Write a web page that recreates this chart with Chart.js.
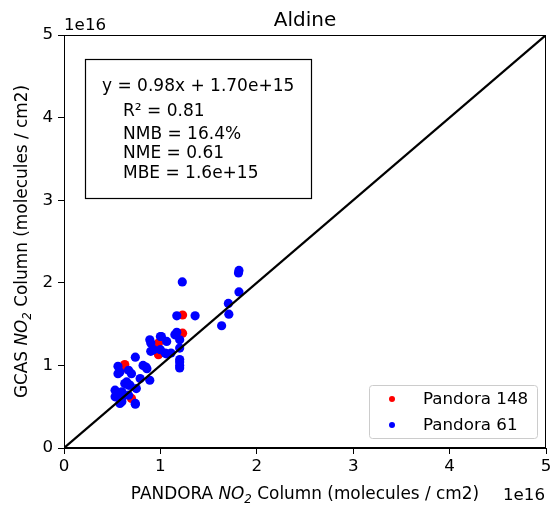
<!DOCTYPE html>
<html><head><meta charset="utf-8">
<script src="https://cdn.jsdelivr.net/npm/chart.js@4.4.0/dist/chart.umd.min.js"></script>
<style>html,body{margin:0;padding:0;background:#fff;overflow:hidden}#wrap{position:relative;width:550px;height:509px;overflow:hidden}</style>
</head><body><div id="wrap"><canvas id="c" width="560" height="509"></canvas></div>
<script>
// ---- data (values in units of 1e16 molecules / cm2) ----
const chartTitle = "Aldine";
const exponentLabel = "1e16";
const axisTicks = [0, 1, 2, 3, 4, 5];
const oneToOneLine = [0, 5];
const seriesNames = ["Pandora 148", "Pandora 61"];
const pandora148X = [1.23, 1.23, 0.98, 0.97, 0.98, 0.63, 0.70, 0.60];
const pandora148Y = [1.61, 1.39, 1.27, 1.22, 1.13, 1.01, 0.60, 0.96];
const pandora61X = [1.815, 1.81, 1.227, 1.815, 1.705, 1.71, 1.635, 1.17, 1.36, 1.17, 1.20, 1.00, 1.065, 0.90, 0.90, 1.06, 1.00, 1.20, 1.20, 1.20,
  0.74, 0.85, 0.56, 0.56, 0.67, 0.70, 0.79, 0.89, 0.65, 0.685, 0.53, 0.60, 0.75, 0.53, 0.60, 0.67, 0.58, 0.74, 0.63,
  0.89, 1.01, 1.15, 0.93, 1.05, 1.11, 1.20, 1.20, 0.82, 0.58, 0.86, 0.67, 0.60, 0.60, 0.74];
const pandora61Y = [2.15, 2.12, 2.01, 1.89, 1.75, 1.62, 1.48, 1.60, 1.60, 1.40, 1.31, 1.35, 1.29, 1.27, 1.17, 1.14, 1.19, 1.21, 1.07, 1.00,
  1.10, 0.98, 0.99, 0.90, 0.94, 0.90, 0.84, 0.82, 0.80, 0.76, 0.70, 0.68, 0.72, 0.62, 0.60, 0.64, 0.54, 0.53, 0.78,
  1.31, 1.35, 1.37, 1.19, 1.15, 1.15, 1.04, 0.97, 1.00, 0.92, 0.96, 0.76, 0.66, 0.56, 0.54];
const statsLines = ["y = 0.98x + 1.70e+15", "R\u00B2 = 0.81", "NMB = 16.4%", "NME = 0.61", "MBE = 1.6e+15"];
const seriesColors = ["#ff0000", "#0000ff"];

const FONT = "DejaVu Sans";
const toPts = (xs, ys) => xs.map((x, i) => ({x: x, y: ys[i]}));

function drawRich(ctx, parts, size) {
  let w = 0;
  parts.forEach(p => {
    ctx.font = (p.it ? "italic " : "") + (p.sub ? size * 0.7 : size) + "px '" + FONT + "'";
    p.w = ctx.measureText(p.t).width; w += p.w;
  });
  return w;
}
function renderRich(ctx, parts, size, x0, y) {
  let x = x0;
  parts.forEach(p => {
    ctx.font = (p.it ? "italic " : "") + (p.sub ? size * 0.7 : size) + "px '" + FONT + "'";
    ctx.fillText(p.t, x, y + (p.sub ? size * 0.22 : 0));
    x += p.w;
  });
}

const overlay = {
  id: "overlay",
  afterDraw(chart) {
    const ctx = chart.ctx, a = chart.chartArea;
    ctx.save();
    ctx.strokeStyle = "#000"; ctx.lineWidth = 1;
    ctx.strokeRect(Math.round(a.left) + 0.5, Math.round(a.top) + 0.5, Math.round(a.right - a.left) - 1, Math.round(a.bottom - a.top) - 1);
    ctx.fillStyle = "#000"; ctx.textBaseline = "alphabetic";
    const cx = (a.left + a.right) / 2;
    ctx.font = "20px '" + FONT + "'"; ctx.textAlign = "center";
    ctx.fillText(chartTitle, cx, 26);
    ctx.font = "16.7px '" + FONT + "'"; ctx.textAlign = "left";
    ctx.fillText(exponentLabel, a.left, 30);
    ctx.textAlign = "right";
    ctx.fillText(exponentLabel, 545, 500);
    ctx.textAlign = "left";
    const xp = [{t: "PANDORA "}, {t: "NO", it: true}, {t: "2", it: true, sub: true}, {t: " Column (molecules / cm2)"}];
    const xw = drawRich(ctx, xp, 16.9);
    renderRich(ctx, xp, 16.9, cx - xw / 2, 499);
    const yp = [{t: "GCAS "}, {t: "NO", it: true}, {t: "2", it: true, sub: true}, {t: " Column (molecules / cm2)"}];
    const yw = drawRich(ctx, yp, 16.9);
    ctx.save();
    ctx.translate(27, (a.top + a.bottom) / 2);
    ctx.rotate(-Math.PI / 2);
    renderRich(ctx, yp, 16.9, -yw / 2, 0);
    ctx.restore();
    // stats box
    ctx.lineWidth = 1.2; ctx.strokeStyle = "#000";
    ctx.fillStyle = "#fff";
    ctx.fillRect(85, 59, 226, 139);
    ctx.strokeRect(85.5, 59.5, 226, 139);
    ctx.fillStyle = "#000";
    ctx.font = "17px '" + FONT + "'"; ctx.textAlign = "left";
    const sx = [102, 123, 123, 123, 123];
    const sy = [91, 116, 139, 158, 178];
    statsLines.forEach((s, i) => ctx.fillText(s, sx[i], sy[i]));
    // legend
    const lx = 369.5, ly = 385.5, lw = 168, lh = 53, r = 3;
    ctx.beginPath();
    ctx.moveTo(lx + r, ly); ctx.lineTo(lx + lw - r, ly); ctx.arcTo(lx + lw, ly, lx + lw, ly + r, r);
    ctx.lineTo(lx + lw, ly + lh - r); ctx.arcTo(lx + lw, ly + lh, lx + lw - r, ly + lh, r);
    ctx.lineTo(lx + r, ly + lh); ctx.arcTo(lx, ly + lh, lx, ly + lh - r, r);
    ctx.lineTo(lx, ly + r); ctx.arcTo(lx, ly, lx + r, ly, r); ctx.closePath();
    ctx.fillStyle = "rgba(255,255,255,0.8)"; ctx.fill();
    ctx.strokeStyle = "#cccccc"; ctx.lineWidth = 1; ctx.stroke();
    const rows = [399, 425];
    ctx.font = "16.7px '" + FONT + "'";
    seriesNames.forEach((n, i) => {
      ctx.fillStyle = seriesColors[i];
      ctx.beginPath(); ctx.arc(392, rows[i], 3, 0, Math.PI * 2); ctx.fill();
      ctx.fillStyle = "#000"; ctx.textBaseline = "middle";
      ctx.fillText(n, 423, rows[i] + 1);
    });
    ctx.restore();
  }
};

const tickFont = {family: FONT, size: 16.7};
new Chart(document.getElementById("c"), {
  type: "scatter",
  data: {
    datasets: [
      {type: "line", label: "1:1", data: toPts(oneToOneLine, oneToOneLine), borderColor: "#000", borderWidth: 2.2, pointRadius: 0, order: 0},
      {label: seriesNames[1], data: toPts(pandora61X, pandora61Y), backgroundColor: seriesColors[1], borderWidth: 0, pointRadius: 4.6, order: 1},
      {label: seriesNames[0], data: toPts(pandora148X, pandora148Y), backgroundColor: seriesColors[0], borderWidth: 0, pointRadius: 4.6, order: 2}
    ]
  },
  options: {
    responsive: false, animation: false, events: [],
    layout: {padding: {top: 35, right: 14, left: 0, bottom: 0}},
    plugins: {legend: {display: false}, tooltip: {enabled: false}, title: {display: false}},
    scales: {
      x: {type: "linear", min: 0, max: 5, afterBuildTicks: s => { s.ticks = axisTicks.map(v => ({value: v})); },
        ticks: {font: tickFont, color: "#000", padding: 3, maxRotation: 0},
        grid: {drawOnChartArea: false, drawTicks: true, tickLength: 6, color: "#000"},
        border: {display: true, color: "#000"},
        afterFit: s => { s.height = 61; }},
      y: {type: "linear", min: 0, max: 5, afterBuildTicks: s => { s.ticks = axisTicks.map(v => ({value: v})); },
        ticks: {font: tickFont, color: "#000", padding: 5},
        grid: {drawOnChartArea: false, drawTicks: true, tickLength: 6, color: "#000"},
        border: {display: true, color: "#000"},
        afterFit: s => { s.width = 64; }}
    }
  },
  plugins: [overlay]
});
</script></body></html>
